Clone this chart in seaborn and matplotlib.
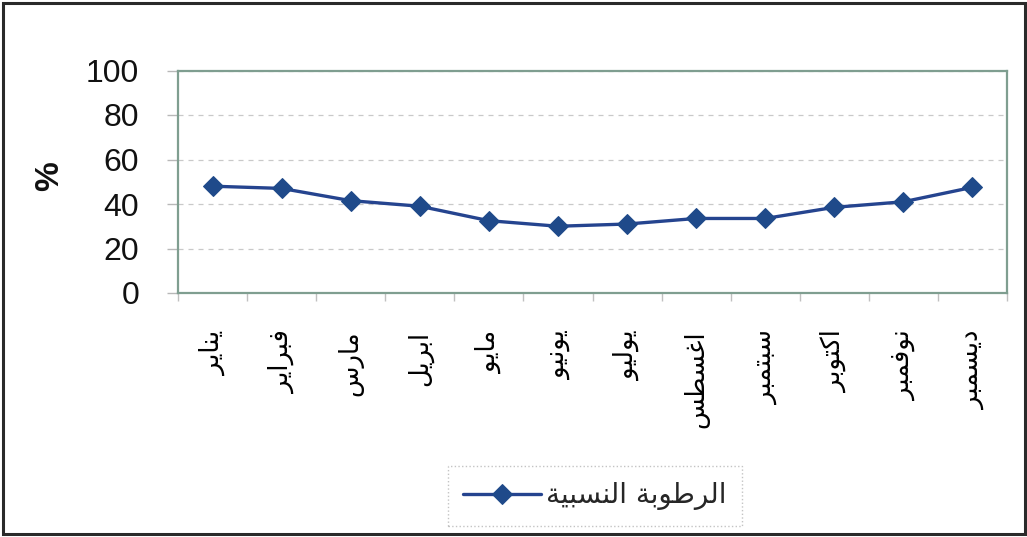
import numpy as np
import pandas as pd
import matplotlib
matplotlib.use("Agg")
import matplotlib.pyplot as plt
from matplotlib.patches import Rectangle
import seaborn as sns

# Monthly relative humidity (%)
months = ["يناير", "فبراير", "مارس", "ابريل", "مايو", "يونيو",
          "يوليو", "اغسطس", "سبتمبر", "اكتوبر", "نوفمبر", "ديسمبر"]
humidity = [48, 47, 41.5, 39, 32.5, 30, 31, 33.5, 33.5, 38.5, 41, 47.5]
series_name = "الرطوبة النسبية"
y_ticks = [0, 20, 40, 60, 80, 100]
y_title = "%"

# Contextual Arabic letter forms (isolated, final, initial, medial)
FORMS = {
    'ا': ('\uFE8D', '\uFE8E', None, None),
    'ب': ('\uFE8F', '\uFE90', '\uFE91', '\uFE92'),
    'ة': ('\uFE93', '\uFE94', None, None),
    'ت': ('\uFE95', '\uFE96', '\uFE97', '\uFE98'),
    'د': ('\uFEA9', '\uFEAA', None, None),
    'ر': ('\uFEAD', '\uFEAE', None, None),
    'س': ('\uFEB1', '\uFEB2', '\uFEB3', '\uFEB4'),
    'ط': ('\uFEC1', '\uFEC2', '\uFEC3', '\uFEC4'),
    'غ': ('\uFECD', '\uFECE', '\uFECF', '\uFED0'),
    'ف': ('\uFED1', '\uFED2', '\uFED3', '\uFED4'),
    'ك': ('\uFED9', '\uFEDA', '\uFEDB', '\uFEDC'),
    'ل': ('\uFEDD', '\uFEDE', '\uFEDF', '\uFEE0'),
    'م': ('\uFEE1', '\uFEE2', '\uFEE3', '\uFEE4'),
    'ن': ('\uFEE5', '\uFEE6', '\uFEE7', '\uFEE8'),
    'و': ('\uFEED', '\uFEEE', None, None),
    'ي': ('\uFEF1', '\uFEF2', '\uFEF3', '\uFEF4'),
}


def shape_arabic(text):
    """Join Arabic letters and put them in visual (right-to-left) order."""
    out = []
    for i, ch in enumerate(text):
        if ch not in FORMS:
            out.append(ch)
            continue
        prev = text[i - 1] if i > 0 else ''
        nxt = text[i + 1] if i + 1 < len(text) else ''
        join_prev = prev in FORMS and FORMS[prev][2] is not None
        join_next = FORMS[ch][2] is not None and nxt in FORMS
        iso, fin, ini, med = FORMS[ch]
        if join_prev and join_next:
            out.append(med)
        elif join_prev:
            out.append(fin)
        elif join_next:
            out.append(ini)
        else:
            out.append(iso)
    return ''.join(reversed(out))


sns.set_style("white")
plt.rcParams['font.family'] = ['Liberation Sans', 'DejaVu Sans']

W, H = 1027, 537
fig = plt.figure(figsize=(W / 100, H / 100), dpi=100)
fig.patch.set_facecolor("white")

# outer frame of the chart
fig.patches.append(Rectangle((2.5 / W, 3.5 / H), (W - 4.5) / W, (H - 6) / H,
                             transform=fig.transFigure, fill=False,
                             edgecolor="#2a2a2a", linewidth=2.2))

ax = fig.add_axes([178 / W, (H - 293) / H, 829 / W, 222.5 / H])
ax.set_facecolor("white")

df = pd.DataFrame({"pos": np.arange(len(months)), "value": humidity})
line_color = "#25448f"
sns.lineplot(data=df, x="pos", y="value", ax=ax, color=line_color,
             linewidth=2.4, marker="D", markersize=10.5,
             markerfacecolor="#1f4a8a", markeredgecolor="#1f4a8a",
             label=shape_arabic(series_name), legend=False)

ax.set_xlim(-0.5, len(months) - 0.5)
ax.set_ylim(0, 100)
ax.set_xlabel("")
ax.set_ylabel("")

# y axis
ax.set_yticks(y_ticks)
ax.set_yticklabels([str(t) for t in y_ticks], fontsize=23, color="#111111")
ax.tick_params(axis="y", length=8, width=1, color="#b8b8b8", pad=20, left=True)
ax.yaxis.grid(True, color="#c9c9c9", linestyle=(0, (4, 4)), linewidth=0.9)
ax.xaxis.grid(False)

# x axis: labels at category centres, tick marks at category boundaries
ax.set_xticks(np.arange(len(months)))
ax.set_xticklabels([shape_arabic(m) for m in months], rotation=90,
                   fontsize=18.5, family=['DejaVu Sans'], color="#000000")
ax.set_xticks(np.arange(len(months) + 1) - 0.5, minor=True)
ax.tick_params(axis="x", which="major", length=0, pad=27)
ax.tick_params(axis="x", which="minor", length=6, width=1, color="#c0c0c0",
               bottom=True)

for sp in ax.spines.values():
    sp.set_color("#7f9e90")
    sp.set_linewidth(1.6)

fig.text(50 / W, 1 - 176 / H, y_title, rotation=90, ha="center", va="center",
         fontsize=24, fontweight="bold", color="#111111")

handles, labels = ax.get_legend_handles_labels()
leg = fig.legend(handles, labels, loc="center",
                 bbox_to_anchor=(595 / W, 1 - 496 / H),
                 bbox_transform=fig.transFigure, fancybox=False,
                 frameon=True, handlelength=2.8, handletextpad=0.2,
                 borderpad=0.55, borderaxespad=0,
                 prop={"family": "DejaVu Sans", "size": 20})
frame = leg.get_frame()
frame.set_edgecolor("#b5b5b5")
frame.set_linestyle(":")
frame.set_linewidth(1.0)

fig.savefig("out.png", dpi=100, facecolor="white")
